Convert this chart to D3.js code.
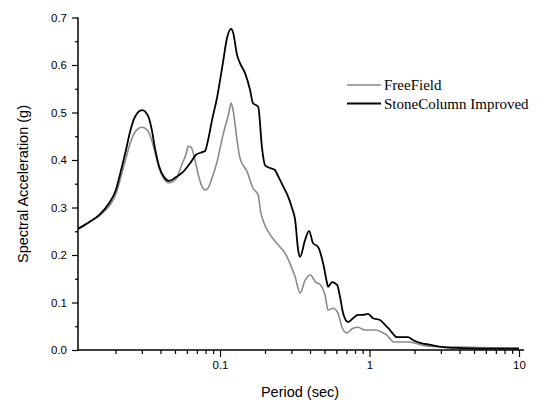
<!DOCTYPE html>
<html>
<head>
<meta charset="utf-8">
<script src="https://cdn.jsdelivr.net/npm/d3@7"></script>
<style>
  html, body { margin: 0; padding: 0; background: #fff; }
  svg { display: block; }
</style>
</head>
<body>
<svg id="chart" width="560" height="403"></svg>
<script>
// Period (sec) and spectral acceleration (g)
const periodFree = [0.01122,0.0133,0.0155,0.0181,0.0201,0.0218,0.0235,0.0250,0.0270,0.0301,0.0330,0.0352,0.0367,0.0391,0.0422,0.0456,0.0508,0.0553,0.0598,0.0611,0.0640,0.0680,0.0713,0.0756,0.0794,0.0832,0.0884,0.0955,0.1047,0.1150,0.1186,0.1222,0.130,0.136,0.152,0.166,0.180,0.187,0.197,0.213,0.229,0.252,0.272,0.293,0.318,0.343,0.371,0.402,0.436,0.470,0.507,0.528,0.570,0.614,0.655,0.704,0.776,0.838,0.930,1.000,1.100,1.20,1.30,1.45,1.78,2.00,2.18,2.45,4.03,5.48,10.0];
const freeField = [0.255,0.269,0.282,0.303,0.328,0.366,0.404,0.434,0.459,0.469,0.461,0.438,0.417,0.383,0.360,0.352,0.360,0.389,0.417,0.429,0.427,0.400,0.371,0.345,0.337,0.341,0.362,0.396,0.453,0.501,0.520,0.505,0.442,0.404,0.375,0.341,0.326,0.291,0.267,0.246,0.232,0.217,0.204,0.183,0.154,0.120,0.147,0.158,0.143,0.137,0.112,0.084,0.088,0.078,0.048,0.036,0.046,0.048,0.042,0.042,0.042,0.038,0.032,0.017,0.017,0.015,0.011,0.008,0.006,0.005,0.004];

const periodStone = [0.01122,0.0133,0.0155,0.0181,0.0201,0.0218,0.0235,0.0250,0.0270,0.0301,0.0330,0.0350,0.0367,0.0391,0.0422,0.0456,0.0508,0.0566,0.0640,0.0691,0.0769,0.0794,0.0832,0.0884,0.0955,0.1040,0.1114,0.1186,0.1222,0.130,0.136,0.147,0.159,0.166,0.180,0.191,0.200,0.216,0.233,0.243,0.264,0.281,0.303,0.318,0.333,0.343,0.371,0.394,0.419,0.453,0.489,0.520,0.528,0.561,0.607,0.635,0.665,0.718,0.776,0.838,0.905,0.977,1.055,1.175,1.27,1.37,1.53,1.81,1.95,2.18,2.54,3.10,4.03,5.48,10.0];
const stoneColumn = [0.255,0.269,0.284,0.309,0.337,0.379,0.421,0.459,0.491,0.505,0.493,0.463,0.425,0.387,0.364,0.356,0.364,0.375,0.396,0.411,0.417,0.419,0.442,0.484,0.531,0.600,0.657,0.676,0.669,0.621,0.604,0.583,0.547,0.520,0.512,0.425,0.389,0.383,0.379,0.368,0.345,0.328,0.299,0.274,0.211,0.196,0.232,0.251,0.225,0.217,0.183,0.141,0.133,0.143,0.137,0.112,0.078,0.059,0.067,0.074,0.074,0.076,0.067,0.063,0.053,0.042,0.027,0.027,0.021,0.015,0.011,0.006,0.004,0.003,0.003];

const yTicks = [0.0,0.1,0.2,0.3,0.4,0.5,0.6,0.7];
const yMinorTicks = [0.05,0.15,0.25,0.35,0.45,0.55,0.65];
const xMajorTicks = [0.1,1,10];
const xMinorTicks = [0.02,0.03,0.04,0.05,0.06,0.07,0.08,0.09,0.2,0.3,0.4,0.5,0.6,0.7,0.8,0.9,2,3,4,5,6,7,8,9];
const seriesNames = ["FreeField","StoneColumn Improved"];
const seriesColors = ["#8a8a8a","#000000"];

const svg = d3.select("#chart");
const x = d3.scaleLog().domain([0.01122, 10.8]).range([78, 524]);
const y = d3.scaleLinear().domain([0, 0.7]).range([350, 17.5]);

const axisFont = "'Liberation Sans', Arial, sans-serif";

// Y axis
const yAxis = svg.append("g").attr("transform", "translate(78,0)")
  .call(d3.axisLeft(y).tickValues(yTicks).tickFormat(d3.format(".1f")).tickSize(6).tickPadding(5));
svg.append("g").attr("transform", "translate(78,0)")
  .call(d3.axisLeft(y).tickValues(yMinorTicks).tickFormat("").tickSize(3))
  .select(".domain").remove();

// X axis
const xAxis = svg.append("g").attr("transform", "translate(0,350)")
  .call(d3.axisBottom(x).tickValues(xMajorTicks).tickFormat(d => d3.format("~g")(d)).tickSize(7).tickPadding(4));
svg.append("g").attr("transform", "translate(0,350)")
  .call(d3.axisBottom(x).tickValues(xMinorTicks).tickFormat("").tickSize(4))
  .select(".domain").remove();

svg.selectAll(".domain").attr("stroke", "#000").attr("stroke-width", 1.5);
svg.selectAll(".tick line").attr("stroke", "#000").attr("stroke-width", 1.2);
svg.selectAll(".tick text").attr("font-family", axisFont).attr("font-size", 11.5).attr("fill", "#000");
yAxis.select(".domain").attr("d", "M0,17.5V350");
xAxis.select(".domain").attr("d", "M78,0H524");

// Axis titles
svg.append("text")
  .attr("x", 300).attr("y", 397)
  .attr("text-anchor", "middle")
  .attr("font-family", axisFont).attr("font-size", 14.5)
  .text("Period (sec)");
svg.append("text")
  .attr("transform", "translate(28,184) rotate(-90)")
  .attr("text-anchor", "middle")
  .attr("font-family", axisFont).attr("font-size", 14.5)
  .text("Spectral Acceleration (g)");

// Lines
const line = d3.line().x(d => x(d[0])).y(d => y(d[1])).curve(d3.curveMonotoneX);
const series = [
  periodFree.map((p, i) => [p, freeField[i]]),
  periodStone.map((p, i) => [p, stoneColumn[i]])
];
series.forEach((s, i) => {
  svg.append("path").datum(s)
    .attr("d", line)
    .attr("fill", "none")
    .attr("stroke", seriesColors[i])
    .attr("stroke-width", i === 1 ? 1.8 : 1.6)
    .attr("stroke-linejoin", "round");
});

// Legend
const legend = svg.append("g");
seriesNames.forEach((name, i) => {
  const ly = 85 + i * 18.5;
  legend.append("line")
    .attr("x1", 347).attr("x2", 381).attr("y1", ly).attr("y2", ly)
    .attr("stroke", seriesColors[i]).attr("stroke-width", i === 1 ? 1.8 : 1.4);
  legend.append("text")
    .attr("x", 384).attr("y", ly + 5)
    .attr("font-family", "'Liberation Serif', 'Times New Roman', serif")
    .attr("font-size", 15)
    .attr("fill", "#000")
    .text(name);
});
</script>
</body>
</html>
